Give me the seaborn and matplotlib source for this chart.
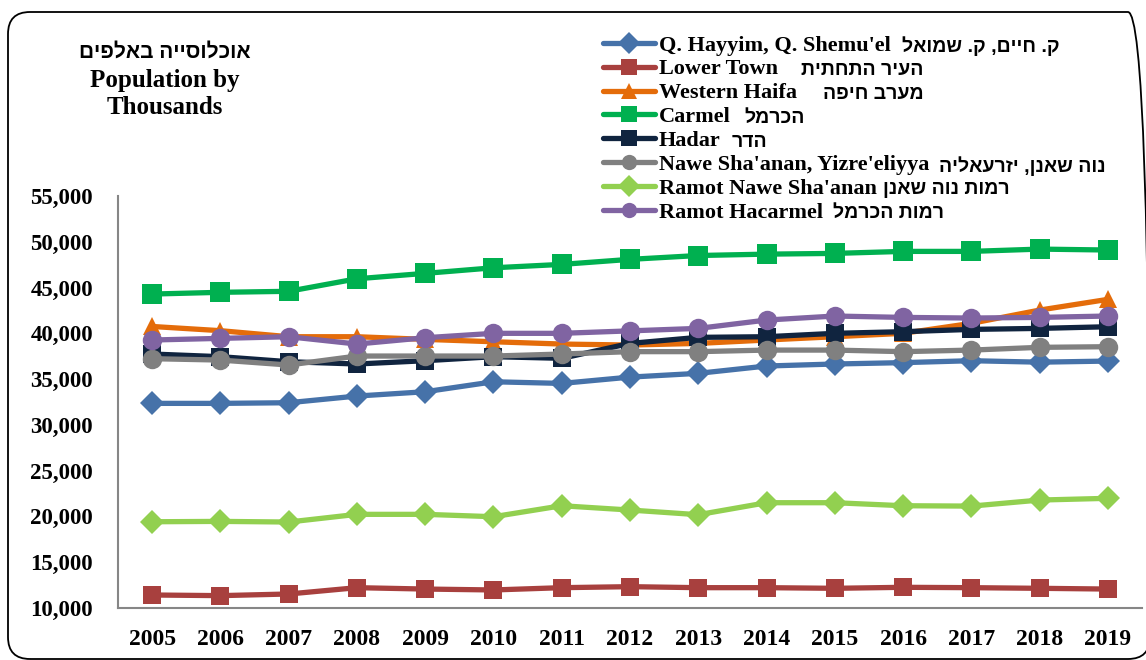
import numpy as np
import pandas as pd
import matplotlib
matplotlib.use("Agg")
import matplotlib.pyplot as plt
import seaborn as sns
from matplotlib.patches import FancyBboxPatch
from matplotlib.ticker import FuncFormatter, MultipleLocator
from matplotlib.transforms import IdentityTransform

# ---------------- data ----------------
years = list(range(2005, 2020))

series_en = [
    "Q. Hayyim, Q. Shemu'el",
    "Lower Town",
    "Western Haifa",
    "Carmel",
    "Hadar",
    "Nawe Sha'anan, Yizre'eliyya",
    "Ramot Nawe Sha'anan",
    "Ramot Hacarmel",
]
series_he = [
    "ק. חיים, ק. שמואל",
    "העיר התחתית",
    "מערב חיפה",
    "הכרמל",
    "הדר",
    "נוה שאנן, יזרעאליה",
    "רמות נוה שאנן",
    "רמות הכרמל",
]

q_hayyim = [32350, 32350, 32420, 33150, 33620, 34710, 34530, 35220,
            35630, 36430, 36650, 36800, 37010, 36850, 36970]
lower_town = [11420, 11350, 11530, 12220, 12070, 11970, 12220, 12330,
              12220, 12220, 12150, 12260, 12220, 12150, 12070]
western_haifa = [40750, 40290, 39630, 39630, 39340, 39080, 38830, 38720,
                 38900, 39270, 39630, 40000, 41090, 42540, 43710]
carmel = [44290, 44480, 44590, 45960, 46550, 47160, 47530, 48080,
          48500, 48650, 48730, 48950, 48950, 49200, 49100]
hadar = [37740, 37450, 36900, 36650, 37010, 37450, 37270, 38900,
         39560, 39630, 40000, 40180, 40430, 40540, 40720]
nawe_shaanan = [37230, 37080, 36540, 37520, 37520, 37520, 37740, 38000,
                38000, 38170, 38170, 38000, 38170, 38470, 38540]
ramot_nawe = [19420, 19460, 19390, 20230, 20230, 19970, 21170, 20700,
              20190, 21500, 21500, 21170, 21130, 21790, 21980]
ramot_hacarmel = [39270, 39450, 39630, 38830, 39520, 40000, 40000, 40270,
                  40540, 41450, 41890, 41740, 41670, 41740, 41890]

all_values = [q_hayyim, lower_town, western_haifa, carmel, hadar,
              nawe_shaanan, ramot_nawe, ramot_hacarmel]

title_he = "אוכלוסייה באלפים"
title_en = ["Population by", "Thousands"]

# ---------------- styles ----------------
colors = ["#4672A9", "#A8403E", "#E46C0A", "#00B050",
          "#10243F", "#808080", "#92D050", "#8064A2"]
marker_list = ["D", "s", "^", "s", "s", "o", "D", "o"]
marker_sizes = [12, 13, 13, 14, 13, 14, 12, 14]
he_gaps_px = [12, 23, 26, 14, 11, 10, 7, 10]   # layout: gap between English and Hebrew label parts


def vis(he):
    # matplotlib draws left-to-right; reverse Hebrew for visual order
    return he[::-1]


rows = []
for lab, vals in zip(series_en, all_values):
    for y, v in zip(years, vals):
        rows.append({"year": y, "population": v, "area": lab})
df = pd.DataFrame(rows)

sns.set_style("white")
plt.rcParams["font.family"] = ["Liberation Serif", "DejaVu Sans"]
plt.rcParams["font.weight"] = "bold"
plt.rcParams["text.color"] = "black"
plt.rcParams["xtick.color"] = "black"
plt.rcParams["ytick.color"] = "black"

fig = plt.figure(figsize=(11.46, 6.6), dpi=100)
ax = fig.add_axes([118 / 1146, 52 / 660, (1142 - 118) / 1146, (608 - 196) / 660])

palette = dict(zip(series_en, colors))
markers = dict(zip(series_en, marker_list))

sns.lineplot(data=df, x="year", y="population", hue="area", style="area",
             hue_order=series_en, style_order=series_en, palette=palette,
             markers=markers, dashes=False, linewidth=3.8, markeredgewidth=0,
             ax=ax, legend=False)

for line, ms in zip(ax.lines, marker_sizes):
    line.set_markersize(ms)
    line.set_solid_joinstyle("round")
    line.set_solid_capstyle("round")

ax.set_xlim(2004.5, 2019.5)
ax.set_ylim(10000, 55000)
ax.set_xlabel("")
ax.set_ylabel("")
ax.set_xticks(years)
ax.set_xticklabels([str(y) for y in years])
ax.xaxis.set_minor_locator(MultipleLocator(1, offset=0.5))
ax.tick_params(axis="x", which="major", length=0, pad=15, labelsize=17,
               labelcolor="black")
ax.tick_params(axis="x", which="minor", length=7, width=1.5, color="#868686",
               direction="out")
ax.yaxis.set_major_locator(MultipleLocator(5000))
ax.yaxis.set_major_formatter(FuncFormatter(lambda v, p: f"{int(v):,}"))
ax.tick_params(axis="y", length=7, width=1.5, color="#868686", direction="out",
               pad=11, labelsize=16.5, labelcolor="black")
for lab in ax.get_xticklabels() + ax.get_yticklabels():
    lab.set_fontweight("bold")
for side in ["top", "right"]:
    ax.spines[side].set_visible(False)
for side in ["left", "bottom"]:
    ax.spines[side].set_color("#868686")
    ax.spines[side].set_linewidth(1.5)
ax.grid(False)

# legend (English part); Hebrew part added as separate sans text
handles = []
for lab, c, m in zip(series_en, colors, marker_list):
    h, = ax.plot([], [], color=c, marker=m, markersize=11, linewidth=3.8,
                 markeredgewidth=0, label=lab)
    handles.append(h)
leg = fig.legend(handles=handles, labels=series_en, loc="upper left",
                 bbox_to_anchor=(603 / 1146, 1 - 35 / 660), frameon=False,
                 handlelength=2.35, handletextpad=0.15, labelspacing=0.15,
                 borderaxespad=0, borderpad=0,
                 prop={"family": ["Liberation Serif"], "weight": "bold",
                       "size": 16})
for t in leg.get_texts():
    t.set_color("black")

fig.canvas.draw()
renderer = fig.canvas.get_renderer()
for t, he, gap in zip(leg.get_texts(), series_he, he_gaps_px):
    bb = t.get_window_extent(renderer)
    fig.text(bb.x1 + gap, (bb.y0 + bb.y1) / 2 - 1, vis(he),
             transform=IdentityTransform(), ha="left", va="center",
             fontsize=14, fontweight="bold", color="black",
             family=["Liberation Sans", "DejaVu Sans"])

# title
fig.text(165 / 1146, 1 - 52 / 660, vis(title_he), ha="center", va="center",
         fontsize=15, fontweight="bold", color="black",
         family=["Liberation Sans", "DejaVu Sans"])
fig.text(165 / 1146, 1 - 81 / 660, title_en[0], ha="center", va="center",
         fontsize=18, fontweight="bold", color="black",
         family=["Liberation Serif"])
fig.text(165 / 1146, 1 - 108 / 660, title_en[1], ha="center", va="center",
         fontsize=18, fontweight="bold", color="black",
         family=["Liberation Serif"])

# rounded border
border = FancyBboxPatch((8, 660 - 659), 1150 - 8, 659 - 12,
                        boxstyle="round,pad=0,rounding_size=22",
                        transform=IdentityTransform(), fill=False,
                        edgecolor="black", linewidth=1.3)
fig.patches.append(border)

fig.savefig("out.png", dpi=100)
